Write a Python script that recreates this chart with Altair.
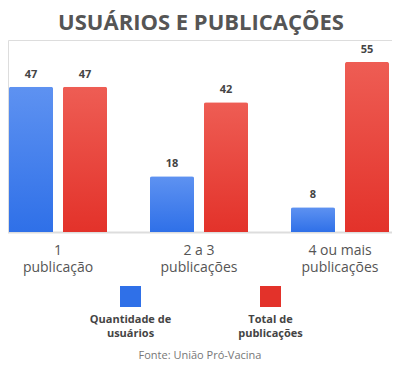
import altair as alt
import pandas as pd

categories = ["1\npublicação", "2 a 3\npublicações", "4 ou mais\npublicações"]
series = ["Quantidade de usuários", "Total de publicações"]
usuarios = [47, 18, 8]
publicacoes = [47, 42, 55]
legend_lines = [["Quantidade de", "usuários"], ["Total de", "publicações"]]
colors = ["#2f70e8", "#e3322a"]
grad_top = ["#5e92f1", "#ee5d54"]
title_text = "USUÁRIOS E PUBLICAÇÕES"
source_text = "Fonte: União Pró-Vacina"

rows = []
for c, u, p in zip(categories, usuarios, publicacoes):
    rows.append({"cat": c, "series": series[0], "value": u})
    rows.append({"cat": c, "series": series[1], "value": p})
df = pd.DataFrame(rows)

FONT = "Open Sans"

x_enc = alt.X(
    "cat:N",
    sort=categories,
    scale=alt.Scale(domain=categories, range=[-20.5, 402.5], paddingInner=0, paddingOuter=0),
    axis=alt.Axis(
        title=None,
        ticks=False,
        labelAngle=0,
        labelPadding=11,
        labelFontSize=14,
        labelFont=FONT,
        labelColor="#555555",
        labelLineHeight=17,
        labelBaseline="top",
        domainColor="#dddddd",
        domainWidth=2,
        labelExpr="split(datum.value, '\\n')",
    ),
)
xoff_enc = alt.XOffset(
    "series:N",
    scale=alt.Scale(domain=series, paddingInner=0.185, paddingOuter=0.398),
)
y_enc = alt.Y(
    "value:Q",
    scale=alt.Scale(domain=[0, 62.1], nice=False),
    axis=None,
)

layers = []
for i, s in enumerate(series):
    grad = alt.Gradient(
        gradient="linear",
        x1=0, y1=0, x2=0, y2=1,
        stops=[alt.GradientStop(color=grad_top[i], offset=0),
               alt.GradientStop(color=colors[i], offset=1)],
    )
    layers.append(
        alt.Chart(df)
        .transform_filter(alt.datum.series == s)
        .mark_bar(color=grad, cornerRadiusTopLeft=2, cornerRadiusTopRight=2)
        .encode(x=x_enc, xOffset=xoff_enc, y=y_enc)
    )

labels = (
    alt.Chart(df)
    .mark_text(font=FONT, fontSize=11, fontWeight="bold", color="#444444", baseline="middle", dy=-12)
    .encode(x=x_enc, xOffset=xoff_enc, y=y_enc, text="value:Q")
)
layers.append(labels)

# legend (squares above two-line labels)
legend_x = [122.5, 262.5]
for i, s in enumerate(series):
    ldf = pd.DataFrame({"series": [s], "lines": [legend_lines[i]]})
    layers.append(
        alt.Chart(ldf)
        .mark_rect(color=colors[i])
        .encode(
            x=alt.value(legend_x[i] - 10.5),
            x2=alt.value(legend_x[i] + 10.5),
            y=alt.value(246),
            y2=alt.value(267),
        )
    )
    layers.append(
        alt.Chart(ldf)
        .mark_text(font=FONT, fontSize=11, fontWeight="bold", color="#444444",
                   baseline="middle", align="center", lineHeight=13.5)
        .encode(x=alt.value(legend_x[i]), y=alt.value(280), text="lines")
    )

src = (
    alt.Chart(pd.DataFrame({"t": [source_text]}))
    .mark_text(font=FONT, fontSize=11, color="#777777", align="center", baseline="middle")
    .encode(x=alt.value(192), y=alt.value(316), text="t:N")
)
layers.append(src)

chart = (
    alt.layer(*layers)
    .properties(
        width=384,
        height=192,
        autosize=alt.AutoSizeParams(type="none"),
        padding={"left": 0, "top": 32, "right": 0, "bottom": 131},
        title=alt.TitleParams(
            title_text,
            font=FONT,
            fontSize=22,
            fontWeight="bold",
            color="#555555",
            anchor="middle",
            dx=1,
            offset=5,
        ),
    )
    .configure_view(stroke=None)
    .configure(background="white")
)

chart.save("out.html", embed_options={"renderer": "svg", "actions": False})
